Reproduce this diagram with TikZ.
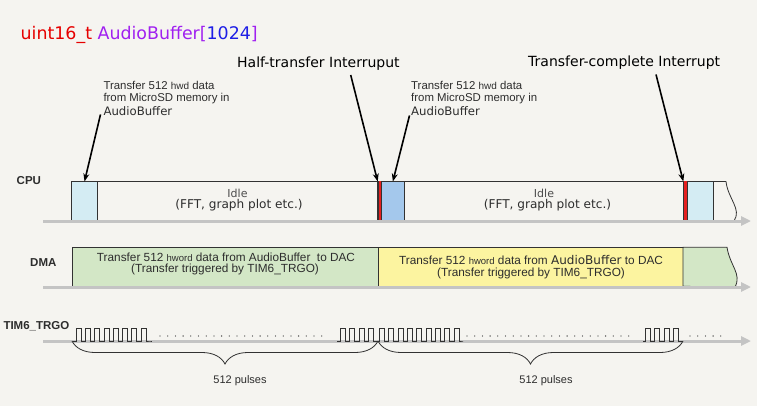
\documentclass[tikz,border=0pt]{standalone}
\usepackage{fontspec}
\setmainfont{Liberation Sans}
\newfontfamily\dvs{DejaVu Sans}
\usetikzlibrary{arrows.meta,decorations.pathreplacing}
\definecolor{bgc}{RGB}{245,244,240}
\definecolor{txt}{RGB}{45,45,45}
\definecolor{edge}{RGB}{50,50,50}
\definecolor{axisgray}{RGB}{196,196,196}
\definecolor{lblue}{RGB}{212,236,243}
\definecolor{mblue}{RGB}{164,200,236}
\definecolor{barred}{RGB}{228,32,32}
\definecolor{lgreen}{RGB}{211,231,198}
\definecolor{lyellow}{RGB}{252,244,160}
\definecolor{tred}{RGB}{230,0,0}
\definecolor{tpurple}{RGB}{160,32,240}
\definecolor{tblue}{RGB}{30,30,230}
\tikzset{
 rowlbl/.style={font=\fontsize{11.5}{13}\selectfont\bfseries, text=txt, anchor=base west, inner sep=0},
 ann/.style={font=\fontsize{11.4}{13}\selectfont, text=txt, anchor=base west, inner sep=0},
 annbuf/.style={font=\dvs\fontsize{11.7}{13}\selectfont, text=txt, anchor=base west, inner sep=0},
 intlbl/.style={font=\dvs\fontsize{14}{16}\selectfont, text=black, anchor=base west, inner sep=0},
 seg/.style={draw=edge, line width=0.8pt, anchor=north west, inner sep=0, outer sep=0},
 cpuh/.style={minimum height=39pt},
 dmah/.style={minimum height=39pt},
 bar/.style={inner sep=0, outer sep=0, anchor=north west, minimum height=39pt},
 axisline/.style={draw=axisgray, line width=3pt, -{Triangle[length=10pt,width=9pt]}},
 callout/.style={draw=black, line width=1.6pt, -{Stealth[length=8pt,width=6pt]}},
 sig/.style={draw=edge, line width=0.8pt},
 dotline/.style={draw=edge, line width=1.3pt, dash pattern=on 0pt off 7.7pt, line cap=round},
 brc/.style={draw=edge, line width=0.8pt, decorate, decoration={brace, mirror, amplitude=23pt}},
 idlea/.style={font=\dvs\fontsize{11}{13}\selectfont, text=txt!85, anchor=base, inner sep=0},
 idleb/.style={font=\dvs\fontsize{12.1}{14}\selectfont, text=txt, anchor=base, inner sep=0},
 dmat/.style={font=\fontsize{11.8}{13}\selectfont, text=txt, anchor=base, inner sep=0},
 plbl/.style={font=\fontsize{11}{13}\selectfont, text=txt, anchor=base, inner sep=0},
}
% #1 start x, #2 first rise x, #3 pulses, #4 period, #5 end x
\newcommand{\pulsetrain}[5]{%
 \draw[sig] (#1,341) -- (#2,341)
  \foreach \k in {1,...,#3}{ -- ++(0,-13) -- ++(5,0) -- ++(0,13) -- ++(#4-5,0)} -- (#5,341);}
\begin{document}
\begin{tikzpicture}[x=1pt,y=-1pt]
\fill[bgc] (0,0) rectangle (757,406);
\useasboundingbox (0,0) rectangle (757,406);

% title
\node[anchor=base west, inner sep=0, font=\dvs\fontsize{17.4}{20}\selectfont] (title) at (20.5,40)
  {\textcolor{tred}{uint16\_t} \textcolor{tpurple}{AudioBuffer[}\textcolor{tblue}{1024}\textcolor{tpurple}{]}};

% interrupt labels
\node[intlbl] (htlbl) at (237,68) {Half-transfer Interruput};
\node[intlbl] (tclbl) at (528,67) {Transfer-complete Interrupt};

% annotations
\node[ann] (an1a) at (103.3,90) {Transfer 512 {\fontsize{10}{12}\selectfont hwd} data};
\node[ann] (an1b) at (103.3,102) {from MicroSD memory in};
\node[annbuf] (an1c) at (103.3,115.5) {AudioBuffer};
\node[ann] (an2a) at (411,89.5) {Transfer 512 {\fontsize{10}{12}\selectfont hwd} data};
\node[ann] (an2b) at (411,102) {from MicroSD memory in};
\node[annbuf] (an2c) at (411,116) {AudioBuffer};

% row labels
\node[rowlbl] (cpulbl) at (16.5,185) {CPU};
\node[rowlbl] (dmalbl) at (30,266) {DMA};
\node[rowlbl] (timlbl) at (3.3,329.5) {TIM6\_TRGO};

% axis coordinates
\coordinate (ax1s) at (43,221); \coordinate (ax1e) at (751,221);
\coordinate (ax2s) at (43,287); \coordinate (ax2e) at (751,287);
\coordinate (ax3s) at (43,341); \coordinate (ax3e) at (751,341);

% CPU row
\node[seg, cpuh, fill=lblue, minimum width=26pt] (cpuA) at (71.5,181.5) {};
\coordinate (cpuTopEnd) at (726,181.5);
\draw[sig] (cpuA.north east) -- (cpuTopEnd) .. controls (728,199) and (742,209) .. (734,221);
\node[bar, fill=edge, minimum width=2pt] (htDark) at (376.7,181.5) {};
\node[bar, fill=barred, minimum width=3pt] (htRed) at (378.7,181.5) {};
\node[seg, cpuh, fill=mblue, minimum width=22.3pt] (cpuB) at (381.7,181.5) {};
\node[bar, fill=edge, minimum width=1.6pt] (tcDark) at (682.5,181.5) {};
\node[bar, fill=barred, minimum width=3pt] (tcRed) at (684,181.5) {};
\node[seg, cpuh, fill=lblue, minimum width=26.3pt] (cpuC) at (687,181.5) {};
\node[idlea] (idle1a) at (237.5,197.3) {Idle};
\node[idleb] (idle1b) at (239,208.5) {(FFT, graph plot etc.)};
\node[idlea] (idle2a) at (544,197.3) {Idle};
\node[idleb] (idle2b) at (547.5,208.5) {(FFT, graph plot etc.)};
\draw[axisline] (ax1s) -- (ax1e);

% DMA row
\node[seg, dmah, fill=lgreen, minimum width=306pt] (dmaA) at (72,247.3) {};
\node[seg, dmah, fill=lyellow, minimum width=305pt] (dmaB) at (378,247.3) {};
\coordinate (dmaTopEnd) at (727,247.3);
\filldraw[draw=edge, line width=0.8pt, fill=lgreen] (dmaB.north east) -- (dmaTopEnd)
  .. controls (730,266) and (742,274) .. (735,287) -- (dmaB.south east) -- cycle;
\node[dmat] (dmaA1) at (226,261.5) {Transfer 512 {\fontsize{9.5}{11}\selectfont hword} data from AudioBuffer\ \ to DAC};
\node[dmat] (dmaA2) at (225,272.5) {(Transfer triggered by TIM6\_TRGO)};
\node[dmat] (dmaB1) at (531,264) {Transfer 512 {\fontsize{9.5}{11}\selectfont hword} data from {\dvs\fontsize{12}{14}\selectfont AudioBuffer} to DAC};
\node[dmat] (dmaB2) at (531,276) {(Transfer triggered by TIM6\_TRGO)};
\draw[axisline] (ax2s) -- (ax2e);

% TIM6_TRGO row
\draw[axisline] (ax3s) -- (ax3e);
\pulsetrain{72.5}{76}{8}{9.3}{152}
\pulsetrain{337}{340}{4}{9.5}{378}
\pulsetrain{378}{379.5}{9}{9.3}{459}
\pulsetrain{643}{645}{4}{9.5}{683}
\draw[dotline] (160,336) -- (327,336);
\draw[dotline] (467,336) -- (633,336);
\draw[dotline] (690,336) -- (726,336);
\coordinate (p0) at (72,341);
\coordinate (p1) at (378,341);
\coordinate (p2) at (683,341);
\draw[brc] (p0) -- (p1);
\draw[brc] (p1) -- (p2);
\node[plbl] (pl1) at (240,383) {512 pulses};
\node[plbl] (pl2) at (546,383) {512 pulses};

% callout arrows
\coordinate (an1p) at (100.5,114.5);
\coordinate (htp) at (350.7,75);
\coordinate (an2p) at (409.5,115.5);
\coordinate (tcp) at (656,74.5);
\draw[callout] (an1p) -- (cpuA.north);
\draw[callout] (htp) -- (htDark.north);
\draw[callout] (an2p) -- (cpuB.north);
\draw[callout] (tcp) -- (tcDark.north);
\end{tikzpicture}
\end{document}
